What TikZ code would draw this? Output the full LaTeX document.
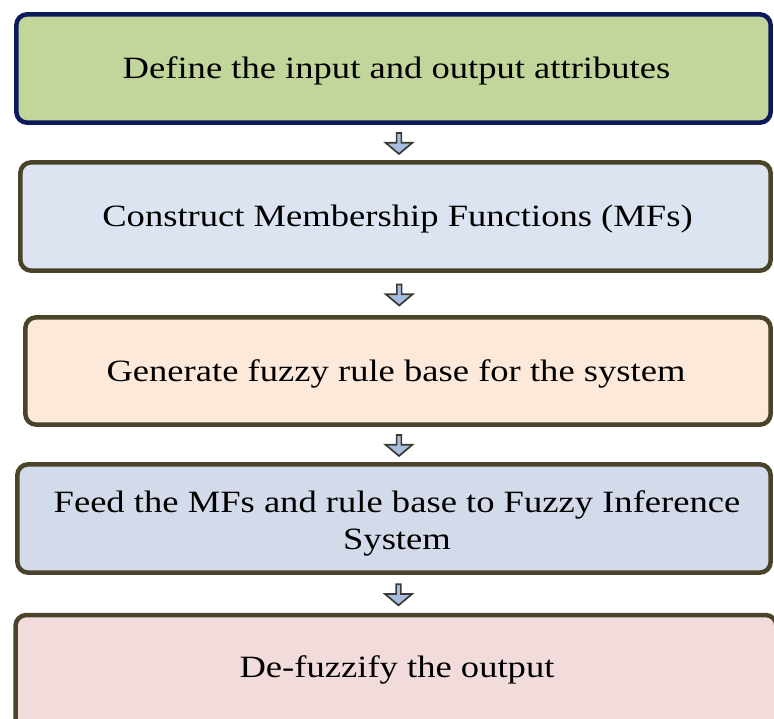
\documentclass[tikz,border=0pt]{standalone}
\usepackage{fontspec}
\setmainfont[FakeStretch=1.18]{Liberation Serif}
\usetikzlibrary{shapes.arrows,calc}
\definecolor{navyB}{HTML}{0C1A5C}
\definecolor{brownB}{HTML}{494429}
\definecolor{fillA}{HTML}{C2D59A}
\definecolor{fillB}{HTML}{DCE4F2}
\definecolor{fillC}{HTML}{FDE9DA}
\definecolor{fillD}{HTML}{D3DAE9}
\definecolor{fillE}{HTML}{F2DCDB}
\definecolor{arrowF}{HTML}{A8BEE0}
\definecolor{arrowD}{HTML}{3A3A33}
\tikzset{
  stepbox/.style={draw=brownB, line width=4.5pt, rounded corners=11pt, inner sep=0pt},
  boxtext/.style={align=center, text=black, inner sep=0pt, font=\fontsize{31}{37}\selectfont},
  flowarrow/.style={single arrow, draw=arrowD, fill=arrowF, line width=1.7pt,
    minimum height=21pt, minimum width=27pt, single arrow head extend=4pt,
    single arrow tip angle=100, inner sep=0pt, rotate=-90}
}
\begin{document}
\begin{tikzpicture}[x=1pt,y=-1pt]
\useasboundingbox (0,0) rectangle (774,719);
\clip (0,0) rectangle (774,719);
\node[stepbox, draw=navyB, fill=fillA, minimum width=754.4pt, minimum height=108.4pt] (b1) at (393.5,68.5) {};
\node[stepbox, fill=fillB, minimum width=750.4pt, minimum height=108.4pt] (b2) at (395.5,216.5) {};
\node[stepbox, fill=fillC, minimum width=745.4pt, minimum height=107.4pt] (b3) at (398,371) {};
\node[stepbox, fill=fillD, minimum width=753.4pt, minimum height=108.4pt] (b4) at (394,518.5) {};
\node[stepbox, fill=fillE, minimum width=761pt, minimum height=116pt] (b5) at (396,673) {};
\node[boxtext] (t1) at ($(b1.center)+(3,2)$) {Define the input and output attributes};
\node[boxtext] (t2) at ($(b2.center)+(2,3)$) {Construct Membership Functions (MFs)};
\node[boxtext] (t3) at ($(b3.center)+(-2,3)$) {Generate fuzzy rule base for the system};
\node[boxtext] (t4) at ($(b4.center)+(3,5)$) {Feed the MFs and rule base to Fuzzy Inference\\System};
\node[boxtext] (t5) at ($(b5.center)+(1,-3)$) {De-fuzzify the output};
\node[flowarrow] (a1) at ($(b1.south)!0.5!(b2.north)+(4.5,0)$) {};
\node[flowarrow] (a2) at ($(b2.south)!0.5!(b3.north)+(2.5,0)$) {};
\node[flowarrow] (a3) at ($(b3.south)!0.5!(b4.north)+(3,0)$) {};
\node[flowarrow] (a4) at ($(b4.south)!0.5!(b5.north)+(3.5,0)$) {};
\end{tikzpicture}
\end{document}
